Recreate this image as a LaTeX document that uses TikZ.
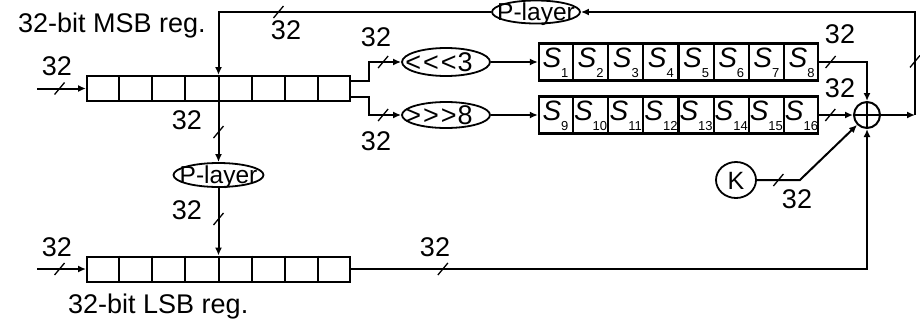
\documentclass[tikz,border=0pt]{standalone}
\usepackage{fontspec}
\setmainfont{Liberation Sans}
\usetikzlibrary{arrows.meta,shapes.geometric,calc}

% text centred in a fixed-size oval, allowed to run over its outline
\newcommand\ovaltext[2][0pt]{\smash{\raisebox{-0.36em}{\makebox[0pt]{#2\hspace{#1}}}}}
% S-box label with its index as a subscript
\newcommand\sblabel[1]{\smash{\raisebox{-5pt}{\makebox[0pt]{\fontsize{28}{28}\selectfont\itshape S\raisebox{-10pt}{\fontsize{13}{13}\selectfont\upshape #1}}}}}
% rotation amounts, kept apart so no << or >> ligature forms
\newcommand\rotl{<\kern2pt<\kern2pt<\kern1pt3}
\newcommand\rotr{>\kern2pt>\kern2pt>\kern1pt8}

\begin{document}
\begin{tikzpicture}[x=1pt,y=-1pt,
  wire/.style={line width=2pt},
  arr/.style={wire,-{Latex[length=8pt,width=7pt]}},
  reg/.style={draw,line width=2pt,minimum width=263pt,minimum height=25pt,inner sep=0pt},
  sbrow/.style={draw,line width=2.2pt,minimum width=279pt,minimum height=37pt,inner sep=0pt},
  oval/.style={draw,ellipse,line width=1.8pt,inner sep=0pt},
  lbl/.style={inner sep=0pt,font=\fontsize{27}{27}\selectfont},
  slash/.pic={\draw[line width=1.3pt,-] (-5,6) -- (5,-6);}
]
\useasboundingbox (0,0) rectangle (920,322);

% 32-bit registers
\node[reg] (msb) at (218.5,88.5) {};
\node[reg] (lsb) at (218.5,269) {};
\foreach \r in {msb,lsb}{
  \foreach \k in {1,...,7}{
    \pgfmathsetmacro\f{\k/8}
    \draw[wire] ($(\r.north west)!\f!(\r.north east)$) -- ($(\r.south west)!\f!(\r.south east)$);
  }
}
\node[lbl,anchor=base west] (msbname) at (18,32) {32-bit MSB reg.};
\node[lbl,anchor=base west] (lsbname) at (68,313) {32-bit LSB reg.};

% permutation layers
\node[oval,minimum width=88pt,minimum height=23pt,font=\fontsize{24.5}{24.5}\selectfont] (pl2) at (536,12) {\ovaltext{P-layer}};
\node[oval,minimum width=90pt,minimum height=24pt,font=\fontsize{24.5}{24.5}\selectfont] (pl1) at (218.5,175) {\ovaltext{P-layer}};

% rotations
\node[oval,minimum width=88pt,minimum height=28pt,font=\fontsize{27}{27}\selectfont] (sh1) at (446,62) {\ovaltext[14pt]{\rotl}};
\node[oval,minimum width=88pt,minimum height=26pt,font=\fontsize{27}{27}\selectfont] (sh2) at (446,115) {\ovaltext[14pt]{\rotr}};

% S-box rows
\node[sbrow] (sb1) at (678.5,62) {};
\node[sbrow] (sb2) at (678.5,115) {};
\foreach \r/\o in {sb1/0,sb2/8}{
  \foreach \k in {1,...,7}{
    \pgfmathsetmacro\f{\k/8}
    \draw[line width=2.2pt] ($(\r.north west)!\f!(\r.north east)$) -- ($(\r.south west)!\f!(\r.south east)$);
  }
  \foreach \k in {1,...,8}{
    \pgfmathsetmacro\f{(\k-0.5)/8}
    \pgfmathtruncatemacro\n{\k+\o}
    \node[inner sep=0pt] (\r-\k) at ($(\r.west)!\f!(\r.east)$) {\sblabel{\n}};
  }
}

% XOR and key
\node[circle,draw,line width=2pt,minimum size=26pt,inner sep=0pt] (xor) at (867,115) {};
\draw[wire] (xor.north) -- (xor.south) (xor.west) -- (xor.east);
\node[ellipse,draw,line width=1.8pt,minimum width=40pt,minimum height=36pt,inner sep=0pt,font=\fontsize{25}{25}\selectfont] (key) at (736,180) {\ovaltext{K}};

\coordinate (in1) at (37,88.5);
\coordinate (in2) at (37,269);
\coordinate (fb) at (915,115);

% connections
\draw[arr] (in1) -- pic[pos=0.46]{slash} (msb.west);
\draw[arr] (in2) -- pic[pos=0.46]{slash} (lsb.west);
\draw[arr] (msb.south) -- pic[pos=0.5]{slash} (pl1.north);
\draw[arr] (pl1.south) -- pic[pos=0.46]{slash} (lsb.north);
\draw[arr] ([yshift=8pt]msb.east) -- ++(18,0) |- pic[pos=0.72]{slash} (sh1.west);
\draw[arr] ([yshift=-8pt]msb.east) -- ++(18,0) |- pic[pos=0.72]{slash} (sh2.west);
\draw[arr] (sh1.east) -- (sb1.west);
\draw[arr] (sh2.east) -- (sb2.west);
\draw[arr] (sb1.east) -| pic[pos=0.12]{slash} (xor.north);
\draw[arr] (sb2.east) -- pic[pos=0.33]{slash} (xor.west);
\draw[arr] (lsb.east) -| pic[pos=0.089]{slash} (xor.south);
\draw[arr] (key.east) -- pic[pos=0.5]{slash} ++(43,0) -- (xor.south west);
\draw[arr] (xor.east) -- (fb);
\draw[arr] (fb) |- pic[pos=0.26]{slash} (pl2.east);
\draw[arr] (pl2.west) -| pic[pos=0.39]{slash} (msb.north);

% bus widths
\node[lbl] (w1) at (57,66) {32};
\node[lbl] (w2) at (57,247) {32};
\node[lbl] (w3) at (286,30) {32};
\node[lbl] (w4) at (187,120) {32};
\node[lbl] (w5) at (187,210) {32};
\node[lbl] (w6) at (376,37) {32};
\node[lbl] (w7) at (376,141) {32};
\node[lbl] (w8) at (840,34) {32};
\node[lbl] (w9) at (840,88) {32};
\node[lbl] (w10) at (435,247) {32};
\node[lbl] (w11) at (797,199) {32};
\end{tikzpicture}
\end{document}
